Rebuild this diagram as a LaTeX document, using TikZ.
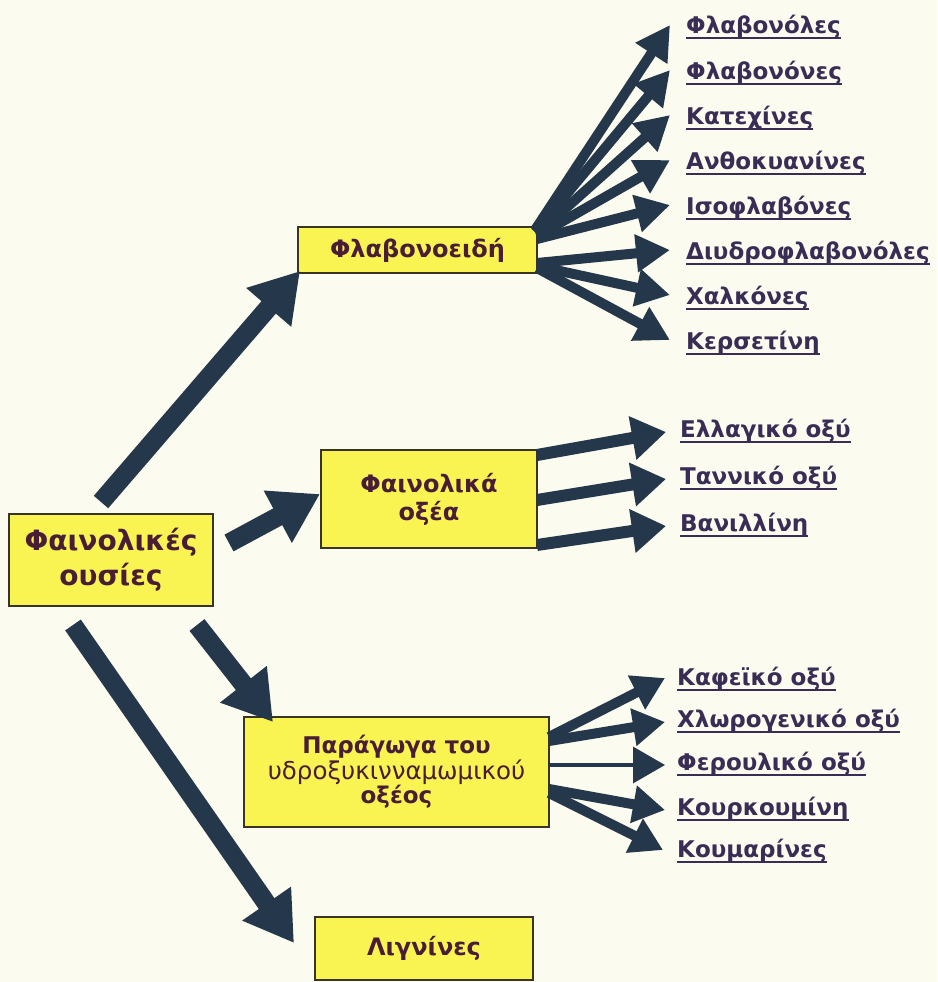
\documentclass[tikz,border=0pt]{standalone}
\usepackage{fontspec}
\setmainfont{DejaVu Sans}
\usetikzlibrary{arrows.meta}
\definecolor{bgc}{HTML}{FCFBEF}
\definecolor{boxy}{HTML}{FAF452}
\definecolor{arr}{HTML}{25374A}
\definecolor{boxtxt}{HTML}{4A1D36}
\definecolor{labtxt}{HTML}{3A2D55}
\definecolor{edgec}{HTML}{3A3425}
\newcommand\ulab[4]{\node[lab] (#1) at (#2,#3) {#4};
  \draw[ul] ([yshift=-4.5pt]#1.base west) -- ([yshift=-4.5pt]#1.base east);}
\begin{document}
\begin{tikzpicture}[x=1pt,y=-1pt,
  box/.style={draw=edgec, line width=1.5pt, fill=boxy, inner sep=0pt, align=center, text=boxtxt},
  lab/.style={anchor=base west, inner sep=0pt, text=labtxt, font=\bfseries\fontsize{23}{26}\selectfont},
  ul/.style={labtxt, line width=2pt},
  big/.style={arr, line width=19pt, -{Triangle[length=48pt,width=56pt]}},
  fan/.style={arr, line width=10pt, -{Triangle[length=34pt,width=36pt]}},
  mid/.style={arr, line width=12pt, -{Triangle[length=34pt,width=42pt]}},
  der/.style={arr, line width=10pt, -{Triangle[length=32pt,width=36pt]}},
  thin/.style={arr, line width=3.5pt, -{Triangle[length=32pt,width=36pt]}}
]
\fill[bgc] (0,0) rectangle (937,982);
\useasboundingbox (0,0) rectangle (937,982);

% boxes
\node[box, minimum width=204pt, minimum height=92pt, font=\bfseries\fontsize{28}{35}\selectfont] (ph) at (111,560) {Φαινολικές\\ουσίες};
\node[box, minimum width=239pt, minimum height=46pt, font=\bfseries\fontsize{24}{28}\selectfont] (fl) at (417.5,250) {Φλαβονοειδή};
\node[box, minimum width=216pt, minimum height=98pt, font=\bfseries\fontsize{24}{28}\selectfont] (ac) at (429,499) {Φαινολικά\\οξέα};
\node[box, minimum width=305pt, minimum height=110pt] (de) at (396.5,772) {{\bfseries\fontsize{23}{29}\selectfont Παράγωγα του}\\{\fontsize{24.5}{29}\selectfont υδροξυκινναμωμικού}\\{\bfseries\fontsize{23}{29}\selectfont οξέος}};
\node[box, minimum width=218pt, minimum height=63pt, font=\bfseries\fontsize{24}{28}\selectfont] (lg) at (424,948.5) {Λιγνίνες};

% main arrows
\coordinate (m1) at (101,502);
\coordinate (m2) at (229,543);
\coordinate (m3) at (197,625);
\coordinate (m4) at (73,625);
\coordinate (e1) at (300,271);
\coordinate (e2) at (320,494);
\coordinate (e3) at (273,722);
\coordinate (e4) at (294,943);
\draw[big] (m1) -- (e1);
\draw[big] (m2) -- (e2);
\draw[big] (m3) -- (e3);
\draw[big] (m4) -- (e4);

% flavonoid labels
\ulab{f1}{686}{34}{Φλαβονόλες}
\ulab{f2}{686}{79}{Φλαβονόνες}
\ulab{f3}{686}{124}{Κατεχίνες}
\ulab{f4}{686}{169}{Ανθοκυανίνες}
\ulab{f5}{686}{214}{Ισοφλαβόνες}
\ulab{f6}{686}{259}{Διυδροφλαβονόλες}
\ulab{f7}{686}{304}{Χαλκόνες}
\ulab{f8}{686}{349}{Κερσετίνη}

\coordinate (fs1) at (535,230);
\coordinate (fs2) at (535,232);
\coordinate (fs3) at (537,234);
\coordinate (fs4) at (537,236);
\coordinate (fs5) at (537,239);
\coordinate (fs6) at (537,263);
\coordinate (fs7) at (537,266);
\coordinate (fs8) at (537,268);
\coordinate (ft1) at (670,25);
\coordinate (ft2) at (670,70);
\coordinate (ft3) at (670,115);
\coordinate (ft4) at (670,160);
\coordinate (ft5) at (670,205);
\coordinate (ft6) at (670,250);
\coordinate (ft7) at (670,295);
\coordinate (ft8) at (670,340);
\foreach \i in {1,...,8} {\draw[fan] (fs\i) -- (ft\i);}

% phenolic acids
\ulab{a1}{680}{437}{Ελλαγικό οξύ}
\ulab{a2}{680}{484}{Ταννικό οξύ}
\ulab{a3}{680}{531}{Βανιλλίνη}
\coordinate (as1) at (537,455);
\coordinate (as2) at (537,500);
\coordinate (as3) at (537,545);
\coordinate (at1) at (666,432);
\coordinate (at2) at (666,479);
\coordinate (at3) at (666,526);
\foreach \i in {1,2,3} {\draw[mid] (as\i) -- (at\i);}

% derivatives
\ulab{d1}{677}{685}{Καφεϊκό οξύ}
\ulab{d2}{677}{727}{Χλωρογενικό οξύ}
\ulab{d3}{677}{770}{Φερουλικό οξύ}
\ulab{d4}{677}{815}{Κουρκουμίνη}
\ulab{d5}{677}{857}{Κουμαρίνες}
\coordinate (ds1) at (549,737);
\coordinate (ds2) at (549,741);
\coordinate (ds3) at (549,765);
\coordinate (ds4) at (549,789);
\coordinate (ds5) at (549,793);
\coordinate (dt1) at (665,678);
\coordinate (dt2) at (665,722);
\coordinate (dt3) at (665,765);
\coordinate (dt4) at (665,810);
\coordinate (dt5) at (663,850);
\draw[der] (ds1) -- (dt1);
\draw[der] (ds2) -- (dt2);
\draw[thin] (ds3) -- (dt3);
\draw[der] (ds4) -- (dt4);
\draw[der] (ds5) -- (dt5);
\end{tikzpicture}
\end{document}
